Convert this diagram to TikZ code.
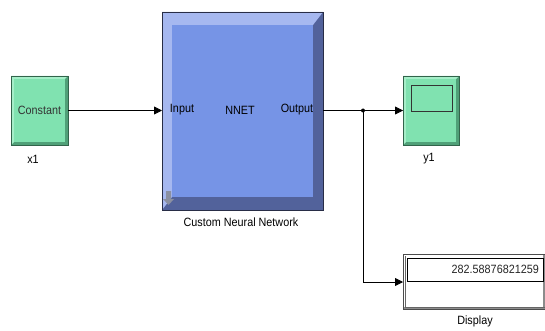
\documentclass[tikz,border=0pt]{standalone}
\usepackage{fontspec}
\setmainfont{Liberation Sans}[FakeStretch=0.9]
\usetikzlibrary{arrows.meta}
\definecolor{mint}{RGB}{128,226,176}
\definecolor{mintlt}{RGB}{165,238,200}
\definecolor{mintdk}{RGB}{80,160,120}
\definecolor{mintbd}{RGB}{50,100,75}
\definecolor{nblue}{RGB}{118,148,230}
\definecolor{nbluelt}{RGB}{166,184,240}
\definecolor{nbluedk}{RGB}{82,98,155}
\definecolor{nbluebd}{RGB}{40,45,70}
\tikzset{
  lbl/.style={font=\fontsize{12}{14}\selectfont, inner sep=0pt},
  wire/.style={draw=black, line width=0.8pt},
  arr/.style={wire, -{Triangle[length=8pt,width=8pt]}},
}
\begin{document}
\begin{tikzpicture}[x=1pt,y=-1pt]
\useasboundingbox (0,0) rectangle (545,331);
\fill[white] (0,0) rectangle (545,331);
% Constant block
\fill[mintdk] (11,76) rectangle (68,145);
\fill[mintlt] (11,76) -- (68,76) -- (65,79) -- (14,79) -- (14,142) -- (11,145) -- cycle;
\fill[mint] (14,79) rectangle (65,142);
\draw[mintbd, line width=0.8pt] (11,76) rectangle (68,145);
\node[lbl, text=black!80] (cst) at (39.5,110.5) {Constant};
\coordinate (cstout) at (68,110.5);
\node[lbl] (x1) at (33,159) {x1};
% NNET block
\fill[nbluedk] (162,12) rectangle (323,210);
\fill[nbluelt] (162,12) -- (323,12) -- (313,25) -- (172,25) -- (172,197) -- (162,210) -- cycle;
\fill[nblue] (172,25) rectangle (313,197);
\draw[nbluebd, line width=0.9pt] (162,12) rectangle (323,210);
\node[lbl] (nin) at (182,110) {Input};
\node[lbl] (nnet) at (240,110) {NNET};
\node[lbl] (nout) at (297,110) {Output};
\coordinate (nninport) at (162,110.5);
\coordinate (nnoutport) at (323,110.5);
% little arrow icon
\fill[gray!70!nbluelt] (166,191) rectangle (171,199) -- (163,199) -- (168.5,205) -- (174,199) -- (171,199);
\node[lbl] (cnn) at (241,222) {Custom Neural Network};
% y1 scope
\fill[mintdk] (403,76) rectangle (459,145);
\fill[mintlt] (403,76) -- (459,76) -- (456,79) -- (406,79) -- (406,142) -- (403,145) -- cycle;
\fill[mint] (406,79) rectangle (456,142);
\draw[mintbd, line width=0.8pt] (403,76) rectangle (459,145);
\draw[black!80, line width=1pt] (411,86) rectangle (452,112);
\coordinate (scin) at (403,110.5);
\node[lbl] (y1) at (429,159) {y1};
% Display
\fill[black!45] (403,254) rectangle (545,309);
\fill[white] (403,254) rectangle (543,307);
\draw[black!70, line width=0.8pt] (403,254) -- (545,254);
\draw[black!70, line width=0.8pt] (403,254) -- (403,309) -- (545,309);
\draw[black!60, line width=0.6pt] (405,256) -- (405,307) -- (545,307);
\draw[black, line width=0.8pt] (407,258) rectangle (543,281);
\node[lbl, anchor=east, text=black!85] (val) at (539,269.5) {282.58876821259};
\coordinate (dispin) at (403,282);
\node[lbl] (disp) at (475,321) {Display};
% wires
\coordinate (junc) at (363,110.5);
\coordinate (corner) at (363,282);
\draw[arr] (cstout) -- (nninport);
\draw[wire] (nnoutport) -- (junc);
\draw[arr] (junc) -- (scin);
\draw[arr] (junc) -- (corner) -- (dispin);
\fill (junc) circle (2pt);
\end{tikzpicture}
\end{document}
